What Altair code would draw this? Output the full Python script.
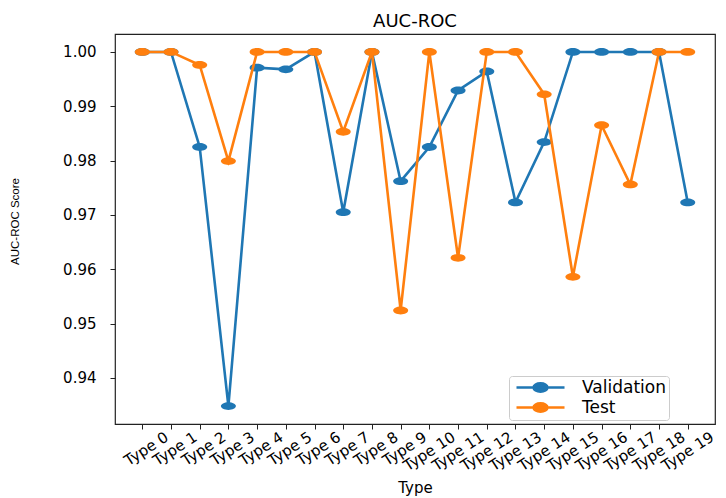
import altair as alt
import pandas as pd

types = [f"Type {i}" for i in range(20)]
validation = [1.000, 1.000, 0.9825, 0.9348, 0.9971, 0.9968, 1.000, 0.9705, 1.000, 0.9762,
              0.9825, 0.9929, 0.9964, 0.9723, 0.9834, 1.000, 1.000, 1.000, 1.000, 0.9723]
test = [1.000, 1.000, 0.9976, 0.9799, 1.000, 1.000, 1.000, 0.9853, 1.000, 0.9524,
        1.000, 0.9621, 1.000, 1.000, 0.9922, 0.9586, 0.9865, 0.9756, 1.000, 1.000]
series_names = ["Validation", "Test"]
series_colors = ["#1f77b4", "#ff7f0e"]
y_ticks = [0.94, 0.95, 0.96, 0.97, 0.98, 0.99, 1.00]

rows = []
for name, vals in zip(series_names, [validation, test]):
    for t, v in zip(types, vals):
        rows.append({"Type": t, "Score": v, "Set": name})
df = pd.DataFrame(rows)

ellipse = "M-1,0A1,0.52 0 1,1 1,0A1,0.52 0 1,1 -1,0Z"
legend_sym = "M-3.43,0H3.43M-1,0A1,0.6 0 1,1 1,0A1,0.6 0 1,1 -1,0Z"

x_enc = alt.X("Type:N", sort=types,
              scale=alt.Scale(type="point", padding=0.95),
              axis=alt.Axis(title="Type", labelAngle=-33, labelAlign="right",
                            labelBaseline="middle", labelOffset=24, labelPadding=6,
                            labelFontSize=15, titleFontSize=15, titleFontWeight="normal",
                            titleY=68, titleBaseline="alphabetic"))
y_enc = alt.Y("Score:Q",
              scale=alt.Scale(domain=[0.9315, 1.0033], nice=False, zero=False),
              axis=alt.Axis(title="AUC-ROC Score", values=y_ticks, format=".2f",
                            labelFontSize=15, labelPadding=14,
                            titleFont="Liberation Sans", titleFontSize=11.5,
                            titleFontWeight="normal", titleX=-100, titleY=187,
                            titleAngle=270, titleBaseline="middle", titleAlign="center"))

stroke_scale = alt.Scale(domain=series_names, range=series_colors)
legend = alt.Legend(title=None, orient="none", legendX=394, legendY=342,
                    symbolType=legend_sym, symbolSize=196, symbolStrokeWidth=2.5,
                    symbolOffset=20, labelFontSize=17, labelOffset=33,
                    padding=3, rowPadding=1,
                    strokeColor="#cccccc", fillColor="white", cornerRadius=3)

layers = []
for name in series_names:
    base = alt.Chart(df).transform_filter(alt.datum.Set == name)
    line = base.mark_line(strokeWidth=2.6).encode(
        x=x_enc, y=y_enc,
        stroke=alt.Stroke("Set:N", scale=stroke_scale, sort=series_names, legend=legend))
    pts = base.mark_point(filled=True, shape=ellipse, size=225, opacity=1).encode(
        x=x_enc, y=y_enc,
        fill=alt.Fill("Set:N", scale=stroke_scale, sort=series_names, legend=legend))
    layers += [line, pts]

chart = alt.layer(*layers).properties(
    width=600, height=390,
    title=alt.Title("AUC-ROC", fontSize=18, fontWeight="normal", offset=3, anchor="middle"),
    autosize=alt.AutoSizeParams(type="none"),
    padding={"left": 115, "top": 34, "right": 11, "bottom": 74},
).configure(font="DejaVu Sans").configure_view(
    stroke="#222222", strokeWidth=1.2
).configure_axis(
    domain=False, grid=False, tickColor="#222222", tickSize=5, tickWidth=1,
    labelColor="black", titleColor="black", labelFont="DejaVu Sans", titleFont="DejaVu Sans"
).configure_title(font="DejaVu Sans", color="black").configure_legend(
    labelFont="DejaVu Sans", labelColor="black"
)

chart.save("out.html", embed_options={"renderer": "svg", "actions": False})
